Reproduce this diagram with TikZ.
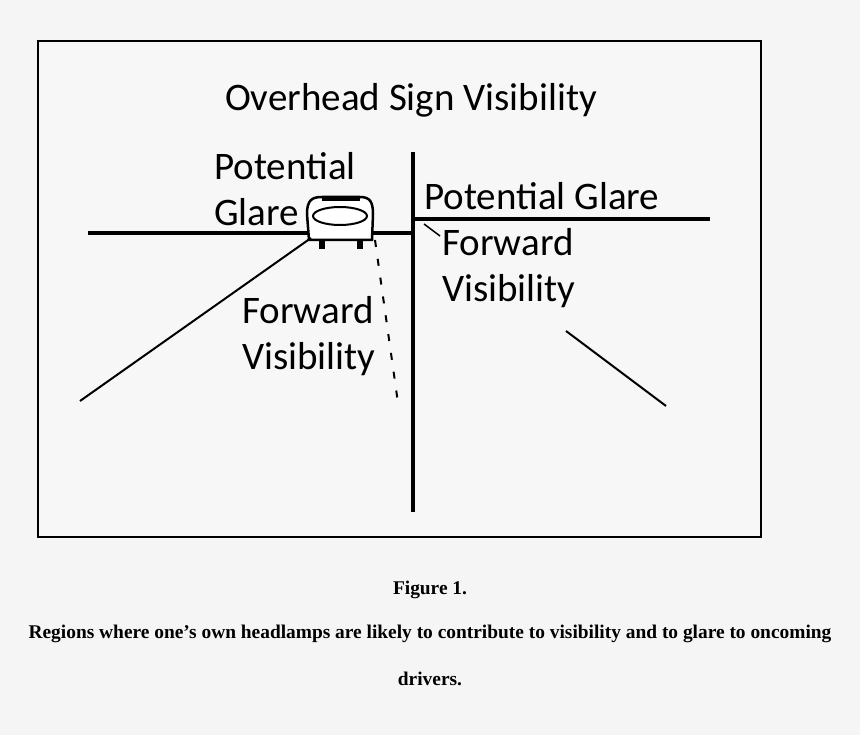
\documentclass[tikz,border=0pt]{standalone}
\usepackage{fontspec}
\setmainfont{Carlito}
\newfontfamily\capfont{Liberation Serif}
\begin{document}
\begin{tikzpicture}[x=1pt,y=-1pt,
 lab/.style={font=\fontsize{39}{46}\selectfont, align=left, inner sep=0},
 captxt/.style={font=\capfont\bfseries\fontsize{19.4}{22}\selectfont, inner sep=0},
 ln/.style={line width=3.2pt}]
\fill[white!96!black] (0,0) rectangle (860,735);
\useasboundingbox (0,0) rectangle (860,735);
\draw[line width=2pt, fill=white!97!black] (38,41) rectangle (761,537);
\node[lab] (t1) at (411,100) {Overhead Sign Visibility};
\node[lab,anchor=west] (pg1) at (214,166) {Potential};
\node[lab,anchor=west] (gl1) at (214,212) {Glare};
\node[lab,anchor=west] (pg2) at (424,196) {Potential Glare};
\node[lab,anchor=north west] (fv1) at (442,228) {Forward\\Visibility};
\node[lab,anchor=north west] (fv2) at (242,296) {Forward\\Visibility};
\coordinate (hl) at (88,233); \coordinate (hr) at (413,233);
\coordinate (vt) at (413,152); \coordinate (vb) at (413,512);
\coordinate (rr) at (710,219); \coordinate (rl) at (413,219);
\draw[ln] (hl) -- (hr);
\draw[ln] (vt) -- (vb);
\draw[ln] (rl) -- (rr);
% car
\draw[line width=2.5pt, fill=white] (309,240) -- (307,214) .. controls (307,200) and (312,197) .. (322,197) -- (360,197) .. controls (370,197) and (373,202) .. (373,214) -- (372,240) -- cycle;
\draw[line width=4pt] (322,199) -- (360,199);
\draw[line width=2pt] (340,216) ellipse (27 and 9);
\fill (319,240) rectangle (325,249); \fill (357,240) rectangle (363,249);
\coordinate (cl) at (311,238); \coordinate (cr) at (375,240);
\coordinate (d1) at (80,401); \coordinate (d2) at (398,403);
\draw[line width=2pt] (cl) -- (d1);
\draw[line width=2pt, dash pattern=on 7pt off 12pt] (cr) -- (d2);
\coordinate (s1) at (424,224); \coordinate (s2) at (440,236);
\draw[line width=1.5pt] (s1) -- (s2);
\coordinate (e1) at (566,331); \coordinate (e2) at (666,406);
\draw[line width=2pt] (e1) -- (e2);
\node[captxt] (c1) at (430,590) {Figure 1.};
\node[captxt] (c2) at (430,634) {Regions where one’s own headlamps are likely to contribute to visibility and to glare to oncoming};
\node[captxt] (c3) at (430,679) {drivers.};
\end{tikzpicture}
\end{document}
